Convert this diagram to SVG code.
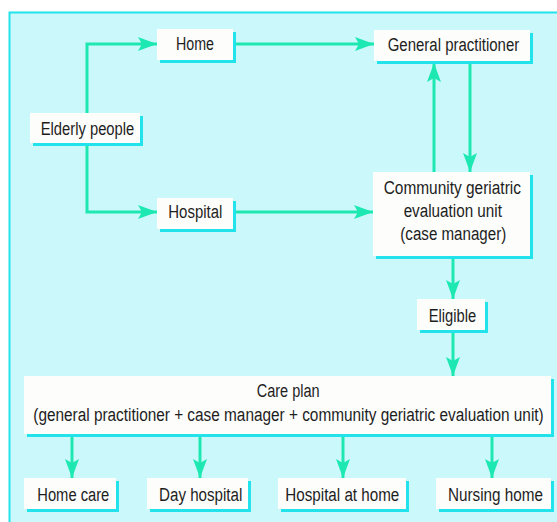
<svg xmlns="http://www.w3.org/2000/svg" width="557" height="522" viewBox="0 0 557 522">
<defs>
<style>
.bx{fill:#fdfdfb}
.sh{fill:#22e3ec}
.t{font-family:"Liberation Sans",Arial,sans-serif;font-size:18px;fill:#1e1e1e;text-anchor:middle}
.c{fill:none;stroke:#1de8b2;stroke-width:3;marker-end:url(#ah)}
</style>
<marker id="ah" markerUnits="userSpaceOnUse" markerWidth="20" markerHeight="16" refX="19" refY="7" orient="auto" viewBox="0 0 20 14">
<path d="M0,0 L19,7 L0,14 L4,7 z" fill="#1de8b2"/>
</marker>
</defs>
<rect x="0" y="0" width="557" height="522" fill="#ffffff"/>
<rect x="9.5" y="12.5" width="560" height="520" fill="#cbf9fb" stroke="#22e3ec" stroke-width="2"/>
<g id="connectors">
<path class="c" d="M87,113 V44 H157"/>
<path class="c" d="M87,146 V212 H157"/>
<path class="c" d="M236,44 H374"/>
<path class="c" d="M236,212 H373"/>
<path class="c" d="M434,172 V63"/>
<path class="c" d="M470,63 V172"/>
<path class="c" d="M453,258 V299"/>
<path class="c" d="M453,333 V376"/>
<path class="c" d="M72,437 V478"/>
<path class="c" d="M200,437 V478"/>
<path class="c" d="M343,437 V478"/>
<path class="c" d="M492,437 V478"/>
</g>
<g id="elderly">
<rect class="sh" x="33" y="116" width="110" height="30"/>
<rect class="bx" x="30" y="113" width="110" height="30"/>
<text class="t" x="87.5" y="135" textLength="93.6" lengthAdjust="spacingAndGlyphs">Elderly people</text>
</g>
<g id="home">
<rect class="sh" x="160" y="32" width="76" height="31"/>
<rect class="bx" x="157" y="29" width="76" height="31"/>
<text class="t" x="195" y="50" textLength="38" lengthAdjust="spacingAndGlyphs">Home</text>
</g>
<g id="hospital">
<rect class="sh" x="160" y="201" width="76" height="31"/>
<rect class="bx" x="157" y="198" width="76" height="31"/>
<text class="t" x="195.3" y="218" textLength="54" lengthAdjust="spacingAndGlyphs">Hospital</text>
</g>
<g id="gp">
<rect class="sh" x="377" y="33" width="156" height="31"/>
<rect class="bx" x="374" y="30" width="156" height="31"/>
<text class="t" x="453.5" y="51" textLength="131.6" lengthAdjust="spacingAndGlyphs">General practitioner</text>
</g>
<g id="cgeu">
<rect class="sh" x="376" y="175" width="157" height="84"/>
<rect class="bx" x="373" y="172" width="157" height="84"/>
<text class="t" x="452.3" y="194" textLength="137.3" lengthAdjust="spacingAndGlyphs">Community geriatric</text>
<text class="t" x="452.8" y="217" textLength="98.3" lengthAdjust="spacingAndGlyphs">evaluation unit</text>
<text class="t" x="453.3" y="240" textLength="106" lengthAdjust="spacingAndGlyphs">(case manager)</text>
</g>
<g id="eligible">
<rect class="sh" x="420" y="302" width="68" height="31"/>
<rect class="bx" x="417" y="299" width="68" height="31"/>
<text class="t" x="452.5" y="322" textLength="47.6" lengthAdjust="spacingAndGlyphs">Eligible</text>
</g>
<g id="careplan">
<rect class="sh" x="27" y="379" width="527" height="58"/>
<rect class="bx" x="24" y="376" width="527" height="58"/>
<text class="t" x="288.2" y="397" textLength="63" lengthAdjust="spacingAndGlyphs">Care plan</text>
<text class="t" x="288.5" y="421" textLength="510.4" lengthAdjust="spacingAndGlyphs">(general practitioner + case manager + community geriatric evaluation unit)</text>
</g>
<g id="homecare">
<rect class="sh" x="27" y="481" width="92" height="31"/>
<rect class="bx" x="24" y="478" width="92" height="31"/>
<text class="t" x="73.3" y="501" textLength="72" lengthAdjust="spacingAndGlyphs">Home care</text>
</g>
<g id="dayhospital">
<rect class="sh" x="150" y="481" width="101" height="31"/>
<rect class="bx" x="147" y="478" width="101" height="31"/>
<text class="t" x="200.7" y="501" textLength="83.3" lengthAdjust="spacingAndGlyphs">Day hospital</text>
</g>
<g id="hah">
<rect class="sh" x="281" y="481" width="128" height="31"/>
<rect class="bx" x="278" y="478" width="128" height="31"/>
<text class="t" x="342.3" y="501" textLength="114" lengthAdjust="spacingAndGlyphs">Hospital at home</text>
</g>
<g id="nursing">
<rect class="sh" x="439" y="481" width="115" height="31"/>
<rect class="bx" x="436" y="478" width="115" height="31"/>
<text class="t" x="495.5" y="501" textLength="95" lengthAdjust="spacingAndGlyphs">Nursing home</text>
</g>
</svg>
